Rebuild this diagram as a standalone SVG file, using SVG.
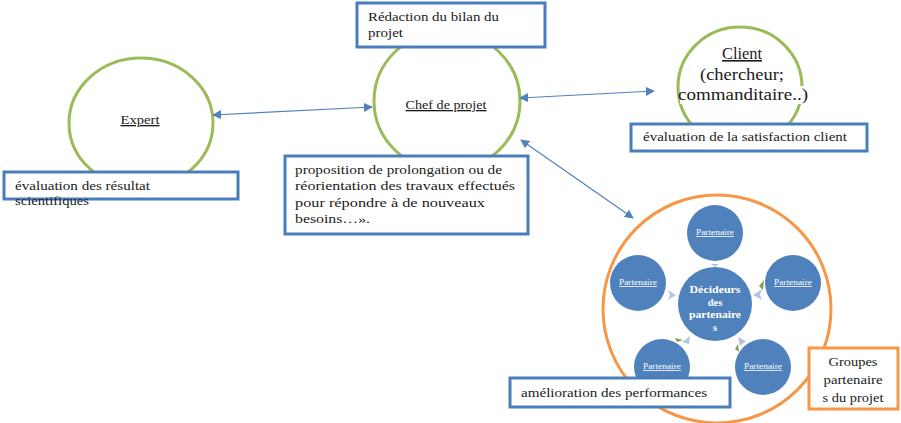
<svg xmlns="http://www.w3.org/2000/svg" width="901" height="423" viewBox="0 0 901 423" font-family="'Liberation Serif','DejaVu Serif','Noto Serif','Times New Roman',Times,serif">
<style>
text{font-family:"Liberation Serif","DejaVu Serif","Noto Serif","Times New Roman",Times,serif;fill:#1a1a1a}
.box{fill:#fff;stroke:#4a7ebb;stroke-width:3}
.obox{fill:#fff;stroke:#f79646;stroke-width:3}
.ell{fill:#fff;stroke:#9bbb59;stroke-width:3}
.conn{stroke:#4f81bd;stroke-width:1.2;fill:none;marker-start:url(#ah);marker-end:url(#ah)}
.t13{font-size:13px}
.p{fill:#4f81bd;stroke:none}
text.pt{font-size:8px;fill:#fff;text-decoration:underline;text-anchor:middle}
text.dc{font-size:10.5px;font-weight:bold;fill:#fff;text-anchor:middle}
.sm{fill:#b4c6e0}
.lf{fill:#7fa34a}
</style>
<defs>
<marker id="ah" viewBox="0 0 10 10" refX="9" refY="5" markerWidth="9" markerHeight="9" orient="auto-start-reverse" markerUnits="userSpaceOnUse">
<path d="M0,0 L10,5 L0,10 z" fill="#4f81bd"/>
</marker>
</defs>
<rect width="901" height="423" fill="#fff"/>

<g id="groupe">
<circle cx="717" cy="309" r="114" fill="#fff" stroke="#f79646" stroke-width="3"/>
</g>

<g id="expert">
<ellipse class="ell" cx="141" cy="123" rx="72" ry="65"/>
<text class="t13" x="140" y="124" text-anchor="middle" text-decoration="underline" textLength="39" lengthAdjust="spacingAndGlyphs">Expert</text>
</g>
<g id="eval-expert">
<rect class="box" x="4" y="172" width="234" height="27"/>
<text class="t13" x="15" y="190" textLength="135" lengthAdjust="spacingAndGlyphs">évaluation des résultat</text>
<text class="t13" x="15" y="205" textLength="74" lengthAdjust="spacingAndGlyphs">scientifiques</text>
</g>

<g id="chef">
<ellipse class="ell" cx="447" cy="101" rx="73" ry="70"/>
<text class="t13" x="446" y="109" text-anchor="middle" text-decoration="underline" textLength="81" lengthAdjust="spacingAndGlyphs">Chef de projet</text>
</g>
<g id="redaction">
<rect class="box" x="357" y="3" width="188" height="44"/>
<text class="t13" x="368" y="21" textLength="131" lengthAdjust="spacingAndGlyphs">Rédaction du bilan du</text>
<text class="t13" x="368" y="37" textLength="35" lengthAdjust="spacingAndGlyphs">projet</text>
</g>
<g id="proposition">
<rect class="box" x="285" y="156" width="243" height="78"/>
<text class="t13" x="295" y="174" textLength="207" lengthAdjust="spacingAndGlyphs">proposition de prolongation  ou de</text>
<text class="t13" x="295" y="190" textLength="220" lengthAdjust="spacingAndGlyphs">réorientation  des travaux effectués</text>
<text class="t13" x="295" y="207" textLength="190" lengthAdjust="spacingAndGlyphs">pour répondre  à  de nouveaux</text>
<text class="t13" x="295" y="223" textLength="75" lengthAdjust="spacingAndGlyphs">besoins…».</text>
</g>

<g id="client">
<ellipse class="ell" cx="740" cy="87" rx="62" ry="60"/>
<rect x="680" y="86" width="128" height="18" fill="#fff"/>
<text x="742" y="59" font-size="16" text-anchor="middle" text-decoration="underline" textLength="40" lengthAdjust="spacingAndGlyphs">Client</text>
<text x="742" y="80" font-size="16" text-anchor="middle" textLength="84" lengthAdjust="spacingAndGlyphs">(chercheur;</text>
<text x="743" y="100" font-size="16" text-anchor="middle" textLength="130" lengthAdjust="spacingAndGlyphs">commanditaire..)</text>
</g>
<g id="eval-client">
<rect class="box" x="631" y="124" width="236" height="27"/>
<text class="t13" x="643" y="141" textLength="204" lengthAdjust="spacingAndGlyphs">évaluation de la satisfaction client</text>
</g>

<g id="partenaires">
<circle class="p" cx="715" cy="233" r="28"/>
<text class="pt" x="715" y="235" textLength="38" lengthAdjust="spacingAndGlyphs">Partenaire</text>
<circle class="p" cx="638" cy="283" r="28"/>
<text class="pt" x="638" y="285" textLength="38" lengthAdjust="spacingAndGlyphs">Partenaire</text>
<circle class="p" cx="793" cy="283" r="28"/>
<text class="pt" x="793" y="285" textLength="38" lengthAdjust="spacingAndGlyphs">Partenaire</text>
<circle class="p" cx="662" cy="367" r="28"/>
<text class="pt" x="662" y="369" textLength="38" lengthAdjust="spacingAndGlyphs">Partenaire</text>
<circle class="p" cx="763" cy="367" r="28"/>
<text class="pt" x="763" y="369" textLength="38" lengthAdjust="spacingAndGlyphs">Partenaire</text>
<polygon class="sm" points="711,264 719,264 715,267"/>
<polygon class="sm" points="668,290 676,295 668,300 670,295"/>
<polygon class="sm" points="762,289 753,295 762,300 760,295"/>
<polygon class="lf" points="759,286 764,280 763,290"/>
<polygon class="sm" points="682,342 690,336 689,344"/>
<polygon class="lf" points="675,338 683,340 677,342"/>
<polygon class="sm" points="738,337 746,341 740,346"/>
<polygon class="lf" points="735,349 738,344 739,352"/>
<circle class="p" cx="715" cy="304" r="37"/>
<text class="dc" x="715" y="293" textLength="51" lengthAdjust="spacingAndGlyphs">Décideurs</text>
<text class="dc" x="715" y="305.5">des</text>
<text class="dc" x="715" y="318" textLength="52" lengthAdjust="spacingAndGlyphs">partenaire</text>
<text class="dc" x="715" y="330.5">s</text>
</g>

<g id="amelioration">
<rect class="box" x="510" y="378" width="220" height="29"/>
<text class="t13" x="521" y="397" textLength="186" lengthAdjust="spacingAndGlyphs">amélioration des performances</text>
</g>
<g id="groupes-label">
<rect class="obox" x="809" y="348" width="89" height="61"/>
<text x="853" y="366" font-size="13" text-anchor="middle" textLength="49" lengthAdjust="spacingAndGlyphs">Groupes</text>
<text x="853" y="384" font-size="13" text-anchor="middle" textLength="59" lengthAdjust="spacingAndGlyphs">partenaire</text>
<text x="853" y="402" font-size="13" text-anchor="middle" textLength="61" lengthAdjust="spacingAndGlyphs">s du projet</text>
</g>

<g id="connectors">
<line class="conn" x1="213" y1="115" x2="372" y2="107"/>
<line class="conn" x1="520" y1="98" x2="654" y2="91"/>
<line class="conn" x1="521" y1="140" x2="633" y2="218"/>
</g>
</svg>
